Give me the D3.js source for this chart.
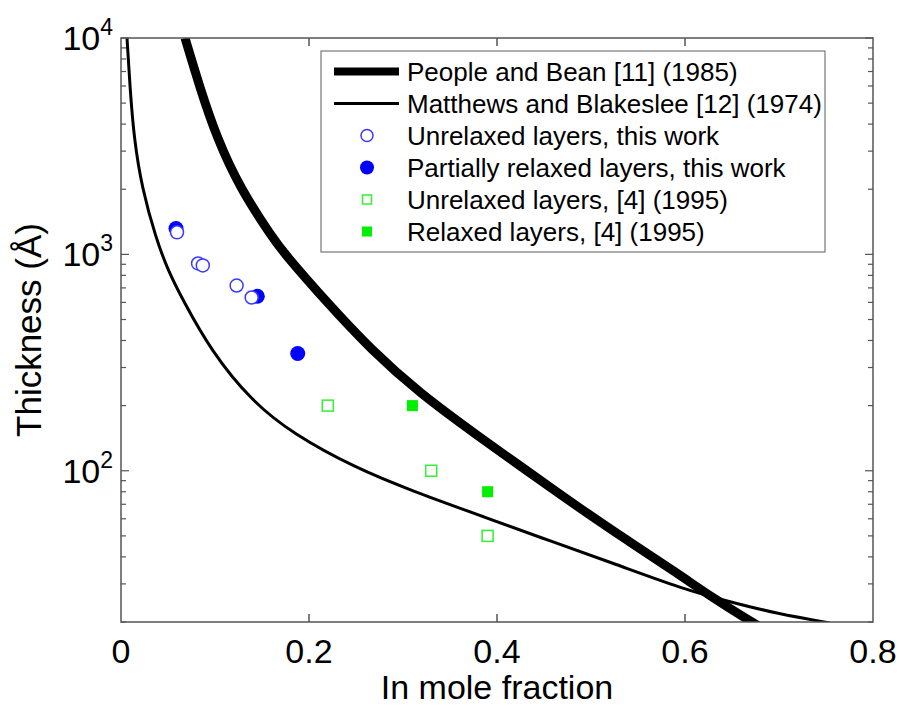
<!DOCTYPE html>
<html>
<head>
<meta charset="utf-8">
<script src="https://cdnjs.cloudflare.com/ajax/libs/d3/7.8.5/d3.min.js"></script>
<style>
  body { margin: 0; background: #fff; }
  text { font-family: "Liberation Sans", Arial, sans-serif; fill: #000; }
</style>
</head>
<body>
<div id="vis"></div>
<script>
// curves (In fraction, thickness in Angstrom)
var peopleX = [0.0681, 0.0840, 0.1021, 0.1266, 0.1617, 0.1745, 0.2170, 0.2670, 0.3170, 0.3809, 0.4319, 0.4872, 0.5394, 0.5926, 0.6298, 0.6691, 0.680];
var peopleY = [10000, 5875, 3444, 2021, 1186, 1000, 613, 359, 229.6, 143.6, 100, 67.5, 47.4, 33.4, 25.8, 20.2, 19];
var matthewsX = [0.0064, 0.0096, 0.0138, 0.0223, 0.0372, 0.0500, 0.066, 0.0957, 0.1383, 0.1830, 0.2489, 0.3096, 0.3894, 0.4564, 0.5255, 0.5979, 0.6447, 0.6989, 0.754];
var matthewsY = [10000, 5875, 3444, 2021, 1186, 843, 613, 359, 211, 148, 103.3, 80.7, 60.5, 47.4, 37.1, 28.4, 25.0, 21.8, 19.8];

// measured layers
var unrelaxedX = [0.0596, 0.082, 0.087, 0.123, 0.139];
var unrelaxedY = [1264, 908, 889, 718, 632];
var partialX = [0.0585, 0.145, 0.188];
var partialY = [1318, 640, 348];
var ref4UnrelaxedX = [0.22, 0.33, 0.39];
var ref4UnrelaxedY = [200, 100, 50];
var ref4RelaxedX = [0.31, 0.39];
var ref4RelaxedY = [200, 80];

var xTicks = [0, 0.2, 0.4, 0.6, 0.8];
var yMajor = [100, 1000, 10000];
var legendLabels = ["People and Bean [11] (1985)", "Matthews and Blakeslee [12] (1974)",
    "Unrelaxed layers, this work", "Partially relaxed layers, this work",
    "Unrelaxed layers, [4] (1995)", "Relaxed layers, [4] (1995)"];

var W = 902, H = 706;
var pLeft = 121, pRight = 873, pTop = 38, pBottom = 622;

var x = d3.scaleLinear().domain([0, 0.8]).range([pLeft, pRight]);
var y = d3.scaleLog().domain([20, 10000]).range([pBottom, pTop]);

var svg = d3.select("#vis").append("svg")
    .attr("width", W)
    .attr("height", H);

svg.append("defs").append("clipPath")
    .attr("id", "plotclip")
    .append("rect")
    .attr("x", pLeft).attr("y", pTop)
    .attr("width", pRight - pLeft).attr("height", pBottom - pTop);

function pairs(xs, ys) {
    return xs.map(function (d, i) { return [d, ys[i]]; });
}

var line = d3.line()
    .x(function (d) { return x(d[0]); })
    .y(function (d) { return y(d[1]); })
    .curve(d3.curveBasis);

var plot = svg.append("g").attr("clip-path", "url(#plotclip)");

plot.append("path")
    .attr("fill", "none")
    .attr("stroke", "#000")
    .attr("stroke-width", 3)
    .attr("d", line(pairs(matthewsX, matthewsY)));

plot.append("path")
    .attr("fill", "none")
    .attr("stroke", "#000")
    .attr("stroke-width", 9)
    .attr("d", line(pairs(peopleX, peopleY)));

// filled circles first, open ones on top (white face)
plot.selectAll(".partial")
    .data(pairs(partialX, partialY))
    .enter().append("circle")
    .attr("cx", function (d) { return x(d[0]); })
    .attr("cy", function (d) { return y(d[1]); })
    .attr("r", 7.5)
    .attr("fill", "#0000ff");

plot.selectAll(".unrel")
    .data(pairs(unrelaxedX, unrelaxedY))
    .enter().append("circle")
    .attr("cx", function (d) { return x(d[0]); })
    .attr("cy", function (d) { return y(d[1]); })
    .attr("r", 6.5)
    .attr("fill", "#fff")
    .attr("stroke", "#3a3aff")
    .attr("stroke-width", 1.5);

var sq = 11;
plot.selectAll(".r4u")
    .data(pairs(ref4UnrelaxedX, ref4UnrelaxedY))
    .enter().append("rect")
    .attr("x", function (d) { return x(d[0]) - sq / 2; })
    .attr("y", function (d) { return y(d[1]) - sq / 2; })
    .attr("width", sq).attr("height", sq)
    .attr("fill", "#fff")
    .attr("stroke", "#33f033")
    .attr("stroke-width", 1.5);

plot.selectAll(".r4r")
    .data(pairs(ref4RelaxedX, ref4RelaxedY))
    .enter().append("rect")
    .attr("x", function (d) { return x(d[0]) - sq / 2; })
    .attr("y", function (d) { return y(d[1]) - sq / 2; })
    .attr("width", sq).attr("height", sq)
    .attr("fill", "#00f000");

// axes box with inward ticks
var axisColor = "#555";
var ax = svg.append("g");
ax.append("rect")
    .attr("x", pLeft).attr("y", pTop)
    .attr("width", pRight - pLeft).attr("height", pBottom - pTop)
    .attr("fill", "none")
    .attr("stroke", axisColor)
    .attr("stroke-width", 1.5);

xTicks.slice(1, -1).forEach(function (t) {
    ax.append("line").attr("x1", x(t)).attr("x2", x(t)).attr("y1", pBottom).attr("y2", pBottom - 8)
        .attr("stroke", axisColor).attr("stroke-width", 1.5);
    ax.append("line").attr("x1", x(t)).attr("x2", x(t)).attr("y1", pTop).attr("y2", pTop + 8)
        .attr("stroke", axisColor).attr("stroke-width", 1.5);
});

y.ticks().forEach(function (t) {
    var major = yMajor.indexOf(t) >= 0;
    var len = major ? 8 : 5;
    ax.append("line").attr("x1", pLeft).attr("x2", pLeft + len).attr("y1", y(t)).attr("y2", y(t))
        .attr("stroke", axisColor).attr("stroke-width", 1.2);
    ax.append("line").attr("x1", pRight).attr("x2", pRight - len).attr("y1", y(t)).attr("y2", y(t))
        .attr("stroke", axisColor).attr("stroke-width", 1.2);
});

svg.selectAll(".xlab")
    .data(xTicks)
    .enter().append("text")
    .attr("x", function (d) { return x(d); })
    .attr("y", 663)
    .attr("text-anchor", "middle")
    .style("font-size", "34px")
    .text(function (d) { return d === 0 ? "0" : d3.format(".1f")(d); });

yMajor.forEach(function (t) {
    var txt = svg.append("text")
        .attr("x", pLeft - 8)
        .attr("y", y(t) + 12)
        .attr("text-anchor", "end")
        .style("font-size", "34px");
    txt.append("tspan").text("10");
    txt.append("tspan")
        .attr("dy", -15)
        .style("font-size", "23px")
        .text(Math.round(Math.log10(t)));
});

svg.append("text")
    .attr("x", (pLeft + pRight) / 2)
    .attr("y", 699)
    .attr("text-anchor", "middle")
    .style("font-size", "34px")
    .text("In mole fraction");

svg.append("text")
    .attr("transform", "translate(41," + ((pTop + pBottom) / 2) + ") rotate(-90)")
    .attr("text-anchor", "middle")
    .style("font-size", "35px")
    .text("Thickness (Å)");

// legend
var lg = svg.append("g");
lg.append("rect")
    .attr("x", 321).attr("y", 51)
    .attr("width", 504).attr("height", 201)
    .attr("fill", "#fff")
    .attr("stroke", "#777")
    .attr("stroke-width", 1.2);

var rowY = function (i) { return 71.5 + i * 32; };
legendLabels.forEach(function (lab, i) {
    lg.append("text")
        .attr("x", 407)
        .attr("y", rowY(i) + 9)
        .style("font-size", "26px")
        .text(lab);
});
lg.append("line").attr("x1", 334).attr("x2", 399).attr("y1", rowY(0)).attr("y2", rowY(0))
    .attr("stroke", "#000").attr("stroke-width", 8);
lg.append("line").attr("x1", 334).attr("x2", 399).attr("y1", rowY(1)).attr("y2", rowY(1))
    .attr("stroke", "#000").attr("stroke-width", 3);
lg.append("circle").attr("cx", 367).attr("cy", rowY(2)).attr("r", 6)
    .attr("fill", "#fff").attr("stroke", "#3a3aff").attr("stroke-width", 1.5);
lg.append("circle").attr("cx", 367).attr("cy", rowY(3)).attr("r", 7)
    .attr("fill", "#0000ff");
lg.append("rect").attr("x", 367 - 4.5).attr("y", rowY(4) - 4.5).attr("width", 9).attr("height", 9)
    .attr("fill", "#fff").attr("stroke", "#33f033").attr("stroke-width", 1.5);
lg.append("rect").attr("x", 367 - 5).attr("y", rowY(5) - 5).attr("width", 10).attr("height", 10)
    .attr("fill", "#00f000");
</script>
</body>
</html>
